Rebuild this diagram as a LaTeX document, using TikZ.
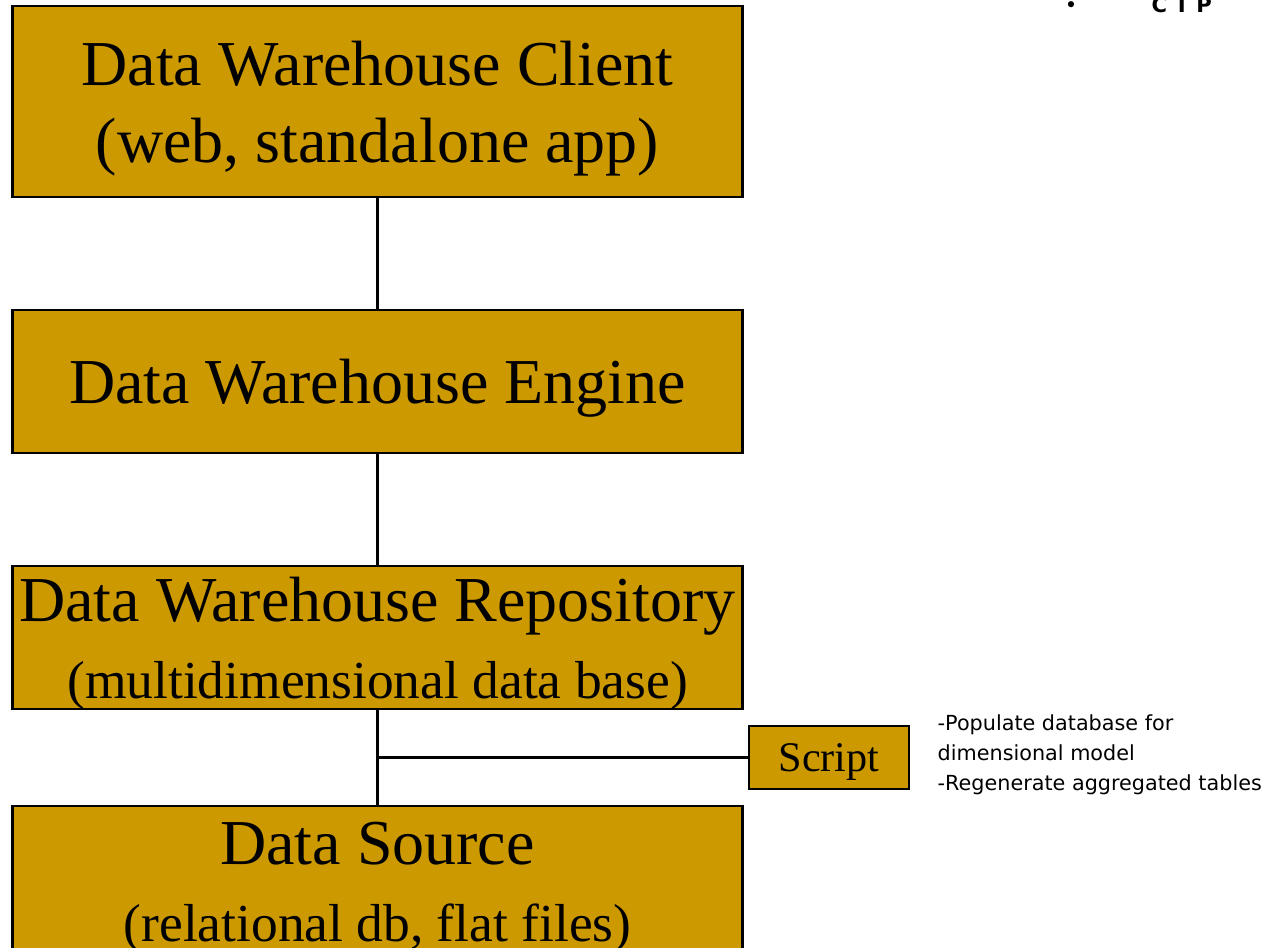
\documentclass[tikz,border=0pt]{standalone}
\usepackage{fontspec}
\setmainfont{Liberation Serif}
\newfontfamily\notefont{DejaVu Sans}
\definecolor{boxgold}{RGB}{204,153,0}
\begin{document}
\begin{tikzpicture}[x=0.01cm,y=-0.01cm,
  layer/.style={draw,line width=0.8pt,fill=boxgold,minimum width=7.29cm,inner sep=0pt,text depth=-2.5pt,align=center,font=\fontsize{18.2}{21.9}\selectfont},
  link/.style={line width=0.6pt}]
\useasboundingbox (0,0) rectangle (1277,947);
\node[layer,minimum height=1.91cm] (client) at (377.5,101.5) {Data Warehouse Client\\(web, standalone app)};
\node[layer,minimum height=1.43cm] (engine) at (377.5,381.5) {Data Warehouse Engine};
\node[layer,minimum height=1.43cm] (repo) at (377.5,637.5) {Data Warehouse Repository\\\fontsize{15.2}{18.7}\selectfont(multidimensional data base)};
\node[layer,minimum height=1.62cm,text depth=3pt] (source) at (377.5,887) {Data Source\\\fontsize{15.2}{19}\selectfont(relational db, flat files)};
\node[layer,minimum width=1.6cm,minimum height=0.63cm,font=\fontsize{12}{14}\selectfont] (script) at (829,757.5) {Script};
\node[anchor=north west,inner sep=0pt,align=left,font=\notefont\fontsize{5.9}{8.5}\selectfont] (note) at (937,714) {-Populate database for\\dimensional model\\-Regenerate aggregated tables};
% connectors
\draw[link] (client.south) -- (engine.north);
\draw[link] (engine.south) -- (repo.north);
\draw[link] (repo.south) -- (source.north);
\draw[link] (repo.south |- script.west) -- (script.west);
% top corner mark
\node[anchor=base,inner sep=0pt,font=\notefont\fontsize{6}{7}\selectfont] (dot) at (1071,12) {\textbullet};
\node[anchor=base west,inner sep=0pt,font=\notefont\bfseries\fontsize{6}{7}\selectfont] (ctp) at (1151,12) {C T P};
\end{tikzpicture}
\end{document}
